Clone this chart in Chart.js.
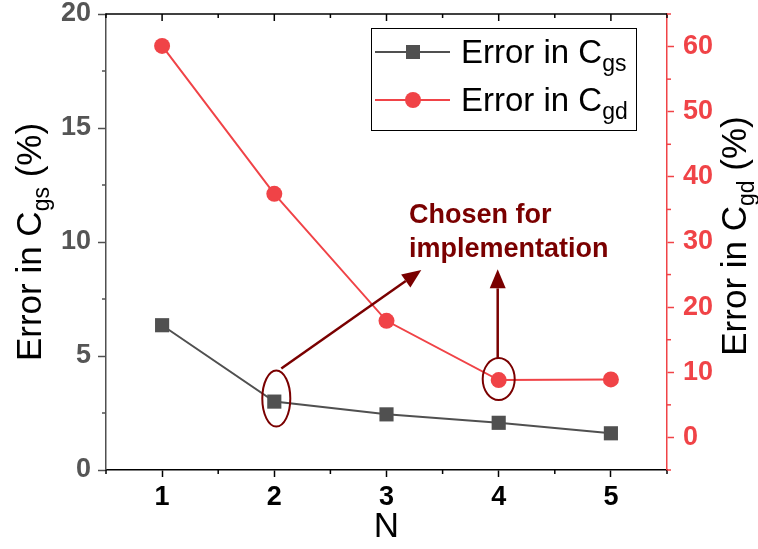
<!DOCTYPE html>
<html>
<head>
<meta charset="utf-8">
<script src="https://cdn.jsdelivr.net/npm/chart.js@4.4.1/dist/chart.umd.min.js"></script>
<style>
  html, body { margin: 0; padding: 0; background: #fff; }
  #wrap { width: 758px; height: 549px; }
</style>
</head>
<body>
<div id="wrap"><canvas id="chart" width="758" height="549"></canvas></div>
<script>
// data
const nValues = [1, 2, 3, 4, 5];
const errCgs = [6.35, 3.0, 2.44, 2.07, 1.61];
const errCgd = [60.1, 37.4, 17.9, 8.8, 8.9];
const xTicks = [1, 2, 3, 4, 5];
const leftTicks = [0, 5, 10, 15, 20];
const rightTicks = [0, 10, 20, 30, 40, 50, 60];
const chosenCgs = 1; // N = 2
const chosenCgd = 3; // N = 4

const GRAY = '#505050';
const RED = '#f04347';
const DARKRED = '#7a0000';
const FONT = '"Liberation Sans", Arial, sans-serif';

function drawRich(ctx, parts, x, y, size, subSize, color, rotate) {
    // parts: [text, isSub]
    ctx.save();
    ctx.translate(x, y);
    if (rotate) ctx.rotate(-Math.PI / 2);
    ctx.fillStyle = color;
    ctx.textBaseline = 'alphabetic';
    ctx.textAlign = 'left';
    let total = 0;
    parts.forEach(p => {
        ctx.font = (p[1] ? subSize : size) + 'px ' + FONT;
        total += ctx.measureText(p[0]).width;
    });
    let cx = rotate ? -total / 2 : 0;
    const base = rotate ? size * 0.358 : 0;
    parts.forEach(p => {
        ctx.font = (p[1] ? subSize : size) + 'px ' + FONT;
        ctx.fillText(p[0], cx, base + (p[1] ? size * 0.24 : 0));
        cx += ctx.measureText(p[0]).width;
    });
    ctx.restore();
}

function minorTicks(min, max, step, majors) {
    const out = [];
    for (let v = min; v <= max + 1e-9; v += step) {
        if (!majors.some(m => Math.abs(m - v) < 1e-9)) out.push(v);
    }
    return out;
}

function noPad(s) {
    s.paddingTop = 0;
    s.paddingBottom = 0;
    s.paddingLeft = 0;
    s.paddingRight = 0;
}

const decorations = {
    id: 'decorations',
    beforeDatasetsDraw(chart) {
        const {ctx, chartArea: a, scales} = chart;
        ctx.save();
        ctx.lineWidth = 1.5;
        // top frame line with inward ticks
        ctx.strokeStyle = '#000';
        ctx.beginPath();
        ctx.moveTo(a.left, a.top);
        ctx.lineTo(a.right, a.top);
        ctx.stroke();
        xTicks.forEach(v => {
            const px = scales.x.getPixelForValue(v);
            ctx.beginPath(); ctx.moveTo(px, a.top); ctx.lineTo(px, a.top + 7); ctx.stroke();
        });
        minorTicks(0.5, 5.5, 0.5, xTicks).forEach(v => {
            const px = scales.x.getPixelForValue(v);
            ctx.beginPath(); ctx.moveTo(px, a.top); ctx.lineTo(px, a.top + 4); ctx.stroke();
            ctx.beginPath(); ctx.moveTo(px, a.bottom); ctx.lineTo(px, a.bottom + 4); ctx.stroke();
        });
        ctx.strokeStyle = GRAY;
        minorTicks(0, 20, 2.5, leftTicks).forEach(v => {
            const py = scales.y.getPixelForValue(v);
            ctx.beginPath(); ctx.moveTo(a.left, py); ctx.lineTo(a.left - 4, py); ctx.stroke();
        });
        ctx.strokeStyle = RED;
        minorTicks(-5, 65, 5, rightTicks).forEach(v => {
            const py = scales.y1.getPixelForValue(v);
            ctx.beginPath(); ctx.moveTo(a.right, py); ctx.lineTo(a.right + 4, py); ctx.stroke();
        });
        ctx.restore();
    },
    afterDraw(chart) {
        const {ctx, chartArea: a, scales} = chart;
        const x = scales.x, y = scales.y, y1 = scales.y1;

        // axis titles with subscripts
        drawRich(ctx, [['Error in C', false], ['gs', true], [' (%)', false]],
            28, (a.top + a.bottom) / 2, 35, 23, '#000', true);
        drawRich(ctx, [['Error in C', false], ['gd', true], [' (%)', false]],
            733, (a.top + a.bottom) / 2 - 6, 35, 23, '#000', true);

        // legend
        ctx.save();
        ctx.strokeStyle = '#000';
        ctx.lineWidth = 1;
        ctx.strokeRect(371.5, 28.5, 265, 102);
        const rows = [
            {y: 52, color: GRAY, style: 'rect', sub: 'gs'},
            {y: 100, color: RED, style: 'circle', sub: 'gd'}
        ];
        rows.forEach(r => {
            ctx.strokeStyle = r.color;
            ctx.fillStyle = r.color;
            ctx.lineWidth = 2;
            ctx.beginPath(); ctx.moveTo(375, r.y); ctx.lineTo(450, r.y); ctx.stroke();
            ctx.beginPath();
            if (r.style === 'rect') ctx.rect(406, r.y - 7, 14, 14);
            else ctx.arc(413, r.y, 8, 0, Math.PI * 2);
            ctx.fill();
            drawRich(ctx, [['Error in C', false], [r.sub, true]], 461, r.y + 11, 33, 23, '#000', false);
        });
        ctx.restore();

        // "chosen" annotations
        ctx.save();
        ctx.strokeStyle = DARKRED;
        ctx.fillStyle = DARKRED;
        ctx.lineWidth = 2;
        const e1x = x.getPixelForValue(nValues[chosenCgs]) + 2;
        const e1y = y.getPixelForValue(errCgs[chosenCgs]) - 3;
        ctx.beginPath(); ctx.ellipse(e1x, e1y, 14, 28, 0, 0, Math.PI * 2); ctx.stroke();
        const e2x = x.getPixelForValue(nValues[chosenCgd]);
        const e2y = y1.getPixelForValue(errCgd[chosenCgd]) - 1;
        ctx.beginPath(); ctx.ellipse(e2x, e2y, 16, 21, 0, 0, Math.PI * 2); ctx.stroke();

        function arrow(x0, y0, x1, y1p) {
            const ang = Math.atan2(y1p - y0, x1 - x0);
            const hl = 19, hw = 8;
            const bx = x1 - hl * Math.cos(ang), by = y1p - hl * Math.sin(ang);
            ctx.lineWidth = 2.5;
            ctx.beginPath(); ctx.moveTo(x0, y0); ctx.lineTo(bx, by); ctx.stroke();
            ctx.beginPath();
            ctx.moveTo(x1, y1p);
            ctx.lineTo(bx + hw * Math.sin(ang), by - hw * Math.cos(ang));
            ctx.lineTo(bx - hw * Math.sin(ang), by + hw * Math.cos(ang));
            ctx.closePath();
            ctx.fill();
        }
        arrow(e1x + 5, e1y - 30, x.getPixelForValue(3.31), y.getPixelForValue(8.77));
        arrow(e2x - 1, e2y - 21, e2x - 1, y1.getPixelForValue(25.8));

        ctx.font = 'bold 27px ' + FONT;
        ctx.textBaseline = 'alphabetic';
        ctx.textAlign = 'left';
        const tx = x.getPixelForValue(3.2);
        ctx.fillText('Chosen for', tx, y.getPixelForValue(10.83));
        ctx.fillText('implementation', tx, y.getPixelForValue(9.34));
        ctx.restore();
    }
};

new Chart(document.getElementById('chart'), {
    type: 'line',
    data: {
        datasets: [
            {
                label: 'Error in Cgs',
                data: nValues.map((n, i) => ({x: n, y: errCgs[i]})),
                yAxisID: 'y',
                borderColor: GRAY,
                backgroundColor: GRAY,
                borderWidth: 2,
                pointStyle: 'rect',
                pointRadius: 10,
                pointBorderWidth: 0,
                tension: 0
            },
            {
                label: 'Error in Cgd',
                data: nValues.map((n, i) => ({x: n, y: errCgd[i]})),
                yAxisID: 'y1',
                borderColor: RED,
                backgroundColor: RED,
                borderWidth: 2,
                pointStyle: 'circle',
                pointRadius: 8,
                pointBorderWidth: 0,
                tension: 0
            }
        ]
    },
    options: {
        responsive: false,
        animation: false,
        layout: {padding: {top: 14, left: 0, right: 0, bottom: 0}},
        plugins: {legend: {display: false}, tooltip: {enabled: false}},
        scales: {
            x: {
                type: 'linear',
                min: 0.5,
                max: 5.5,
                afterBuildTicks: s => { s.ticks = xTicks.map(v => ({value: v})); },
                afterFit: s => { s.height = 79; noPad(s); },
                border: {color: '#000', width: 1.5},
                grid: {drawOnChartArea: false, tickLength: 7, tickColor: '#000', tickWidth: 1.5},
                ticks: {color: '#000', padding: 4, font: {family: FONT, size: 27, weight: 'bold'}},
                title: {display: true, text: 'N', color: '#000', padding: {top: 0, bottom: 4},
                    font: {family: FONT, size: 35, lineHeight: 1}}
            },
            y: {
                position: 'left',
                min: 0,
                max: 20,
                afterBuildTicks: s => { s.ticks = leftTicks.map(v => ({value: v})); },
                afterFit: s => { s.width = 106; noPad(s); },
                border: {color: GRAY, width: 1.5},
                grid: {drawOnChartArea: false, tickLength: 8, tickColor: GRAY, tickWidth: 1.5},
                ticks: {color: '#555', padding: 7, font: {family: FONT, size: 27, weight: 'bold'}}
            },
            y1: {
                position: 'right',
                min: -5,
                max: 65,
                afterBuildTicks: s => { s.ticks = rightTicks.map(v => ({value: v})); },
                afterFit: s => { s.width = 91; noPad(s); },
                border: {color: RED, width: 1.5},
                grid: {drawOnChartArea: false, tickLength: 7, tickColor: RED, tickWidth: 1.5},
                ticks: {color: RED, padding: 9, font: {family: FONT, size: 27, weight: 'bold'}}
            }
        }
    },
    plugins: [decorations]
});
</script>
</body>
</html>
